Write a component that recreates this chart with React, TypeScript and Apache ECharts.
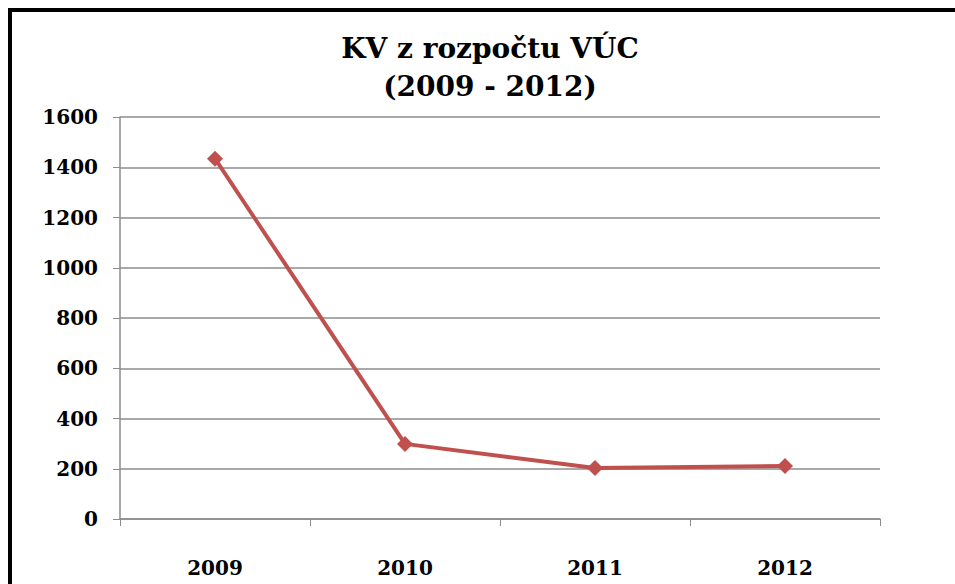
import React, { useEffect, useRef } from "react";
import * as echarts from "echarts";

const categories = ["2009", "2010", "2011", "2012"];
const values = [1434, 299, 203, 211];
const titleLines = ["KV z rozpočtu VÚC", "(2009 - 2012)"];
const yMin = 0;
const yMax = 1600;
const yStep = 200;

export default function App() {
  const ref = useRef<HTMLDivElement>(null);
  useEffect(() => {
    if (!ref.current) return;
    const chart = echarts.init(ref.current, null, { renderer: "svg" });
    const serif = "DejaVu Serif";
    chart.setOption({
      animation: false,
      backgroundColor: "#ffffff",
      title: {
        text: titleLines.join("\n"),
        left: 485,
        textAlign: "center",
        top: 24,
        textStyle: {
          fontFamily: serif,
          fontWeight: "bold",
          fontSize: 28,
          lineHeight: 38,
          color: "#000",
        },
      },
      graphic: [
        { type: "line", shape: { x1: 8, y1: 10, x2: 955, y2: 10 }, style: { stroke: "#000", lineWidth: 4 } },
        { type: "line", shape: { x1: 10, y1: 8, x2: 10, y2: 584 }, style: { stroke: "#000", lineWidth: 4 } },
      ],
      grid: { left: 120, right: 75, top: 117, bottom: 65 },
      xAxis: {
        type: "category",
        data: categories,
        boundaryGap: true,
        axisLine: { show: true, lineStyle: { color: "#8c8c8c", width: 1.5 } },
        axisTick: { show: true, interval: 0, length: 7, lineStyle: { color: "#8c8c8c" } },
        axisLabel: {
          margin: 39,
          fontFamily: serif,
          fontWeight: "bold",
          fontSize: 20,
          color: "#000",
        },
      },
      yAxis: {
        type: "value",
        min: yMin,
        max: yMax,
        interval: yStep,
        axisLine: { show: true, lineStyle: { color: "#8c8c8c", width: 1.5 } },
        axisTick: { show: true, length: 7, lineStyle: { color: "#8c8c8c" } },
        splitLine: { show: true, lineStyle: { color: "#8c8c8c", width: 1.5 } },
        axisLabel: {
          margin: 22,
          fontFamily: serif,
          fontWeight: "bold",
          fontSize: 20,
          color: "#000",
          formatter: (v: number) => String(v),
        },
      },
      series: [
        {
          type: "line",
          data: values,
          symbol: "diamond",
          symbolSize: 16,
          lineStyle: { color: "#c0504d", width: 4 },
          itemStyle: { color: "#c0504d" },
        },
      ],
    });
    return () => chart.dispose();
  }, []);
  return (
    <div
      ref={ref}
      style={{ position: "absolute", left: 0, top: 0, width: 955, height: 584 }}
    />
  );
}
